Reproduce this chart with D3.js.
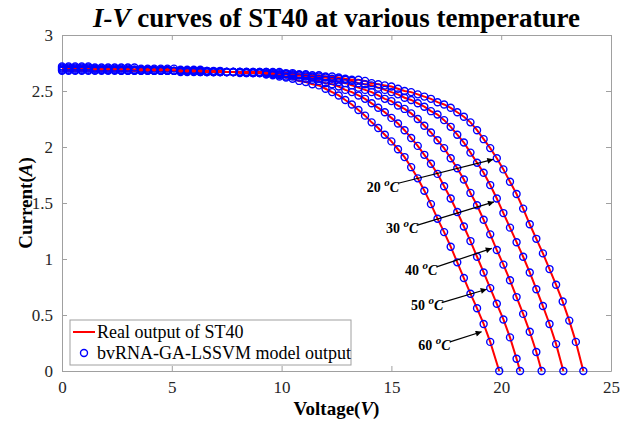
<!DOCTYPE html>
<html>
<head>
<meta charset="utf-8">
<script src="https://cdn.jsdelivr.net/npm/d3@7"></script>
<style>
  body { margin: 0; background: #fff; }
  text { font-family: "Liberation Serif", "Times New Roman", serif; }
</style>
</head>
<body>
<div id="viz"></div>
<script>
const margin = { top: 35, right: 18, bottom: 53, left: 62 };
const width = 629;
const height = 424;

// voltage grid of the samples (V)
const voltage = [0, 0.3, 0.6, 0.9, 1.2, 1.5, 1.8, 2.1, 2.4, 2.7, 3, 3.3, 3.6, 3.9, 4.2, 4.5, 4.8, 5.1, 5.4, 5.7,
  6, 6.3, 6.6, 6.9, 7.2, 7.5, 7.8, 8.1, 8.4, 8.7, 9, 9.3, 9.6, 9.9, 10.2, 10.5, 10.8, 11.1, 11.4, 11.7,
  12, 12.3, 12.6, 12.9, 13.2, 13.5, 13.8, 14.1, 14.4, 14.7, 15, 15.3, 15.6, 15.9, 16.2, 16.5, 16.8, 17.1, 17.4, 17.7,
  18, 18.3, 18.6, 18.9, 19.2, 19.5, 19.8, 20.1, 20.4, 20.7, 21, 21.3, 21.6, 21.9, 22.2, 22.5, 22.8, 23.1, 23.4, 23.7];

const temps = ['20', '30', '40', '50', '60'];
// open circuit voltage of each curve (last sample, I = 0)
const voc = [23.74, 22.83, 21.84, 20.86, 19.91];

// currents (A) on the voltage grid
const current20 = [2.68, 2.68, 2.68, 2.68, 2.68, 2.68, 2.68, 2.68, 2.68, 2.68, 2.68, 2.68, 2.68, 2.68, 2.68, 2.68, 2.68, 2.68,
  2.67, 2.67, 2.67, 2.67, 2.67, 2.67, 2.67, 2.67, 2.67, 2.67, 2.67, 2.67, 2.67, 2.67, 2.67, 2.67,
  2.66, 2.66, 2.65, 2.65, 2.64, 2.64, 2.63, 2.63, 2.62, 2.61, 2.60, 2.60, 2.59, 2.57, 2.56, 2.55,
  2.54, 2.52, 2.50, 2.49, 2.47, 2.45, 2.43, 2.40, 2.38, 2.35, 2.31, 2.27, 2.22, 2.15, 2.07, 1.99,
  1.90, 1.80, 1.69, 1.58, 1.45, 1.31, 1.18, 1.05, 0.91, 0.77, 0.62, 0.45, 0.26];
const current30 = [2.69, 2.69, 2.69, 2.69, 2.69, 2.69, 2.69, 2.69, 2.69,
  2.68, 2.68, 2.68, 2.68, 2.68, 2.68, 2.68, 2.68, 2.68, 2.68, 2.68, 2.68,
  2.67, 2.67, 2.67, 2.67, 2.67, 2.67, 2.67, 2.67, 2.67, 2.67, 2.67,
  2.66, 2.66, 2.65, 2.65, 2.64, 2.64, 2.63, 2.63, 2.62, 2.61, 2.61, 2.60, 2.59, 2.57, 2.56, 2.55,
  2.53, 2.51, 2.49, 2.47, 2.44, 2.42, 2.39, 2.36, 2.32, 2.29, 2.24, 2.18, 2.11, 2.04, 1.95, 1.86,
  1.77, 1.66, 1.54, 1.41, 1.28, 1.15, 1.02, 0.88, 0.73, 0.58, 0.42, 0.24];
const current40 = [2.70, 2.70, 2.70, 2.70, 2.70, 2.70,
  2.69, 2.69, 2.69, 2.69, 2.69, 2.69, 2.69, 2.69,
  2.68, 2.68, 2.68, 2.68, 2.68, 2.68, 2.68, 2.68,
  2.67, 2.67, 2.67, 2.67, 2.67, 2.67, 2.67,
  2.66, 2.66, 2.66, 2.66, 2.65, 2.65, 2.64, 2.64, 2.63, 2.62, 2.61, 2.60, 2.59, 2.58, 2.57, 2.55,
  2.53, 2.51, 2.49, 2.46, 2.43, 2.41, 2.37, 2.34, 2.30, 2.25, 2.19, 2.13, 2.06, 1.99, 1.90, 1.81,
  1.71, 1.59, 1.48, 1.35, 1.22, 1.08, 0.95, 0.81, 0.66, 0.51, 0.35, 0.17];
const current50 = [2.71, 2.71, 2.71, 2.71, 2.71,
  2.70, 2.70, 2.70, 2.70, 2.70, 2.70,
  2.69, 2.69, 2.69, 2.69, 2.69, 2.69,
  2.68, 2.68, 2.68, 2.68, 2.68, 2.68,
  2.67, 2.67, 2.67, 2.67, 2.67,
  2.66, 2.66, 2.66, 2.65, 2.65, 2.64, 2.63, 2.63, 2.62, 2.61, 2.60, 2.59, 2.57, 2.56, 2.54, 2.51,
  2.49, 2.46, 2.43, 2.39, 2.35, 2.31, 2.26, 2.21, 2.15, 2.08, 2.01, 1.93, 1.85, 1.76, 1.65, 1.54,
  1.42, 1.29, 1.16, 1.02, 0.88, 0.74, 0.60, 0.46, 0.30, 0.11];
const current60 = [2.72, 2.72, 2.72, 2.72, 2.72,
  2.71, 2.71, 2.71, 2.71, 2.71, 2.71, 2.71,
  2.70, 2.70, 2.70, 2.70, 2.70, 2.70,
  2.69, 2.69, 2.69, 2.69, 2.68, 2.68, 2.68, 2.67, 2.67,
  2.66, 2.66, 2.66, 2.66, 2.65, 2.64, 2.63, 2.62, 2.61, 2.59, 2.58, 2.56, 2.55, 2.52, 2.49, 2.46,
  2.42, 2.38, 2.33, 2.28, 2.22, 2.17, 2.11, 2.05, 1.98, 1.91, 1.82, 1.72, 1.61, 1.49, 1.36, 1.24,
  1.11, 0.97, 0.83, 0.69, 0.56, 0.42, 0.26];
const currents = [current20, current30, current40, current50, current60];

const xTicks = [0, 5, 10, 15, 20, 25];
const yTicks = [0, 0.5, 1, 1.5, 2, 2.5, 3];

// temperature annotations, in data units (V, A)
const labelV = [13.88, 14.75, 15.62, 15.89, 16.22];
const labelI = [1.60, 1.232, 0.857, 0.545, 0.19];
const arrowFromV = [15.31, 16.15, 17.06, 17.29, 17.67];
const arrowFromI = [1.676, 1.30, 0.93, 0.61, 0.26];
const arrowToV = [19.64, 19.67, 19.57, 19.34, 19.11];
const arrowToI = [1.89, 1.51, 1.095, 0.73, 0.35];

const axisColor = '#a0a0a0';
const labelColor = '#262626';

const svg = d3.select('#viz')
  .append('svg')
  .attr('width', width)
  .attr('height', height);

const x = d3.scaleLinear().domain([0, 25]).range([margin.left, width - margin.right]);
const y = d3.scaleLinear().domain([0, 3]).range([height - margin.bottom, margin.top]);

// white plot background + frame
svg.append('rect')
  .attr('x', x(0)).attr('y', y(3))
  .attr('width', x(25) - x(0)).attr('height', y(0) - y(3))
  .attr('fill', '#fff');

const styleAxis = (g, showLabels) => {
  g.select('.domain').attr('stroke', axisColor);
  g.selectAll('.tick line').attr('stroke', axisColor);
  g.selectAll('.tick text')
    .attr('fill', labelColor)
    .attr('font-size', 17)
    .attr('font-family', '"Liberation Serif", serif');
  if (!showLabels) g.selectAll('.tick text').remove();
};

svg.append('g')
  .attr('transform', `translate(0,${y(0)})`)
  .call(d3.axisBottom(x).tickValues(xTicks).tickSize(-5).tickSizeOuter(0).tickPadding(10))
  .call(g => styleAxis(g, true));
svg.append('g')
  .attr('transform', `translate(0,${y(3)})`)
  .call(d3.axisTop(x).tickValues(xTicks).tickSize(-5).tickSizeOuter(0))
  .call(g => styleAxis(g, false));
svg.append('g')
  .attr('transform', `translate(${x(0)},0)`)
  .call(d3.axisLeft(y).tickValues(yTicks).tickSize(-5).tickSizeOuter(0).tickPadding(9).tickFormat(d3.format('~g')))
  .call(g => styleAxis(g, true));
svg.append('g')
  .attr('transform', `translate(${x(25)},0)`)
  .call(d3.axisRight(y).tickValues(yTicks).tickSize(-5).tickSizeOuter(0))
  .call(g => styleAxis(g, false));

// curves
const line = d3.line().x(d => x(d[0])).y(d => y(d[1]));
const series = currents.map((cur, j) => cur.map((c, i) => [voltage[i], c]).concat([[voc[j], 0]]));

series.forEach(pts => {
  svg.append('path')
    .attr('d', line(pts))
    .attr('fill', 'none')
    .attr('stroke', '#ff0000')
    .attr('stroke-width', 2);
});
series.forEach(pts => {
  svg.append('g').selectAll('circle')
    .data(pts)
    .join('circle')
    .attr('cx', d => x(d[0]))
    .attr('cy', d => y(d[1]))
    .attr('r', 3.5)
    .attr('fill', 'none')
    .attr('stroke', '#0000ff')
    .attr('stroke-width', 1.4);
});

// arrows
svg.append('defs').append('marker')
  .attr('id', 'head')
  .attr('viewBox', '0 0 10 10')
  .attr('refX', 10).attr('refY', 5)
  .attr('markerWidth', 9).attr('markerHeight', 6)
  .attr('markerUnits', 'userSpaceOnUse')
  .attr('orient', 'auto')
  .append('path')
  .attr('d', 'M0,0L10,5L0,10z')
  .attr('fill', '#000');

temps.forEach((t, i) => {
  svg.append('line')
    .attr('x1', x(arrowFromV[i])).attr('y1', y(arrowFromI[i]))
    .attr('x2', x(arrowToV[i])).attr('y2', y(arrowToI[i]))
    .attr('stroke', '#000')
    .attr('stroke-width', 1.2)
    .attr('marker-end', 'url(#head)');
  const txt = svg.append('text')
    .attr('x', x(labelV[i])).attr('y', y(labelI[i]))
    .attr('font-size', 14)
    .attr('font-weight', 'bold')
    .attr('fill', '#000');
  txt.append('tspan').text(t + ' ');
  txt.append('tspan').attr('font-style', 'italic').attr('font-size', 11).attr('dy', -6).text('o');
  txt.append('tspan').attr('font-style', 'italic').attr('dy', 6).text('C');
});

// legend
const legend = svg.append('g');
legend.append('rect')
  .attr('x', 70).attr('y', 320)
  .attr('width', 281).attr('height', 45)
  .attr('fill', '#fff')
  .attr('stroke', axisColor);
legend.append('line')
  .attr('x1', 73).attr('x2', 95).attr('y1', 332).attr('y2', 332)
  .attr('stroke', '#ff0000').attr('stroke-width', 2);
legend.append('circle')
  .attr('cx', 84).attr('cy', 353).attr('r', 3.5)
  .attr('fill', 'none').attr('stroke', '#0000ff').attr('stroke-width', 1.4);
legend.append('text')
  .attr('x', 97).attr('y', 338)
  .attr('font-size', 18).attr('fill', '#000')
  .text('Real output of ST40');
legend.append('text')
  .attr('x', 97).attr('y', 359)
  .attr('font-size', 18).attr('fill', '#000')
  .text('bvRNA-GA-LSSVM model output');

// title
const title = svg.append('text')
  .attr('x', (x(0) + x(25)) / 2).attr('y', 27)
  .attr('text-anchor', 'middle')
  .attr('font-size', 27)
  .attr('font-weight', 'bold')
  .attr('fill', '#000');
title.append('tspan').attr('font-style', 'italic').text('I-V');
title.append('tspan').text(' curves of ST40 at various temperature');

// axis labels
const xl = svg.append('text')
  .attr('x', (x(0) + x(25)) / 2).attr('y', 415)
  .attr('text-anchor', 'middle')
  .attr('font-size', 19).attr('font-weight', 'bold').attr('fill', '#000');
xl.append('tspan').text('Voltage(');
xl.append('tspan').attr('font-style', 'italic').text('V');
xl.append('tspan').text(')');

const yl = svg.append('text')
  .attr('transform', `translate(32,${(y(0) + y(3)) / 2}) rotate(-90)`)
  .attr('text-anchor', 'middle')
  .attr('font-size', 19).attr('font-weight', 'bold').attr('fill', '#000');
yl.append('tspan').text('Current(');
yl.append('tspan').attr('font-style', 'italic').text('A');
yl.append('tspan').text(')');
</script>
</body>
</html>
